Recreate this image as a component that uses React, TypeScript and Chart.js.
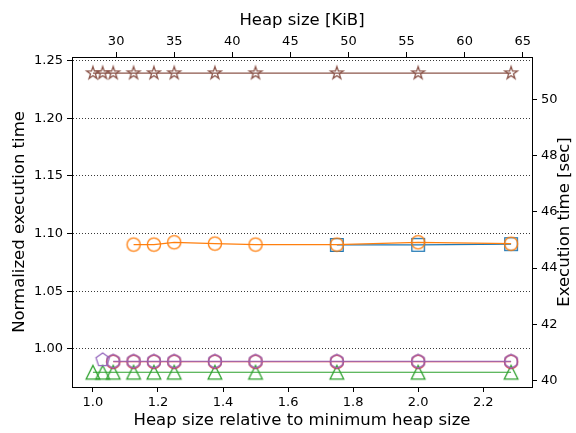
import React, { useEffect, useRef } from 'react';
import { Chart, registerables } from 'chart.js';

Chart.register(...registerables);

// ---- data ----
const relAll = [1.0, 1.03, 1.0625, 1.125, 1.1875, 1.25, 1.375, 1.5, 1.75, 2.0, 2.2857];
const brownY = [1.239, 1.239, 1.239, 1.239, 1.239, 1.239, 1.239, 1.239, 1.239, 1.239, 1.239];
const greenY = [0.9798, 0.9798, 0.9798, 0.9798, 0.9798, 0.9798, 0.9798, 0.9798, 0.9798, 0.9798, 0.9798];

const orangeX = [1.125, 1.1875, 1.25, 1.375, 1.5, 1.75, 2.0, 2.2857];
const orangeY = [1.0904, 1.0904, 1.0924, 1.0913, 1.0904, 1.0904, 1.0924, 1.0912];

const blueX = [1.75, 2.0, 2.2857];
const blueY = [1.0901, 1.0902, 1.0908];

const redX = [1.0625, 1.125, 1.1875, 1.25, 1.375, 1.5, 1.75, 2.0, 2.2857];
const redY = [0.9889, 0.9889, 0.9889, 0.9889, 0.9889, 0.9889, 0.9889, 0.9889, 0.9889];

const purpleX = [1.0625, 1.125, 1.1875, 1.25, 1.375, 1.5, 1.75, 2.0, 2.2857];
const purpleY = [0.9893, 0.9893, 0.9893, 0.9893, 0.9893, 0.9893, 0.9893, 0.9893, 0.9893];

const pentX = [1.03];
const pentY = [0.9905];

// ---- axes ----
const xTicks = [1.0, 1.2, 1.4, 1.6, 1.8, 2.0, 2.2];
const topTicks = [30, 35, 40, 45, 50, 55, 60, 65];
const leftTicks = [1.0, 1.05, 1.1, 1.15, 1.2, 1.25];
const rightTicks = [40, 42, 44, 46, 48, 50];

const X_MIN = 0.9357, X_MAX = 2.35;
const TOP_MIN = 26.2, TOP_MAX = 65.8;
const Y_MIN = 0.967, Y_MAX = 1.253;
const BASE_SEC = 41.12;

const FONT = 'DejaVu Sans';
const tickFont = { family: FONT, size: 13 };
const titleFont = { family: FONT, size: 16.5 };

function makeMarker(shape: string, color: string): HTMLCanvasElement {
  const S = 20;
  const c = document.createElement('canvas');
  c.width = S; c.height = S;
  const g = c.getContext('2d') as CanvasRenderingContext2D;
  g.strokeStyle = color;
  g.lineWidth = 1.3;
  const cx = S / 2, cy = S / 2;
  g.beginPath();
  const poly = (n: number, R: number, r?: number) => {
    const pts = r ? n * 2 : n;
    for (let i = 0; i < pts; i++) {
      const rad = r ? (i % 2 === 0 ? R : r) : R;
      const a = -Math.PI / 2 + (i * 2 * Math.PI) / pts;
      const px = cx + rad * Math.cos(a), py = cy + rad * Math.sin(a);
      if (i === 0) g.moveTo(px, py); else g.lineTo(px, py);
    }
    g.closePath();
  };
  if (shape === 'circle') g.arc(cx, cy, 6.6, 0, Math.PI * 2);
  else if (shape === 'square') g.rect(cx - 6.3, cy - 6.3, 12.6, 12.6);
  else if (shape === 'triangle') { g.moveTo(cx, cy - 6.8); g.lineTo(cx + 6.8, cy + 6.8); g.lineTo(cx - 6.8, cy + 6.8); g.closePath(); }
  else if (shape === 'star') poly(5, 6.6, 6.6 * 0.382);
  else if (shape === 'pentagon') poly(5, 7);
  else if (shape === 'hexagon') poly(6, 7);
  g.stroke();
  return c;
}

function pts(xs: number[], ys: number[]) {
  return xs.map((x, i) => ({ x, y: ys[i] }));
}

export default function App() {
  const ref = useRef<HTMLCanvasElement>(null);
  useEffect(() => {
    if (!ref.current) return;
    const C = {
      blue: '#1f77b4', orange: '#ff7f0e', green: '#2ca02c', red: '#d62728', purple: '#9467bd', brown: '#8c564b',
    };
    const ds = (data: any, color: string, shape: string) => ({
      data,
      borderColor: color,
      backgroundColor: color,
      borderWidth: 1.2,
      pointStyle: makeMarker(shape, color),
      pointRadius: 7,
      pointHoverRadius: 7,
      showLine: true,
      fill: false,
      tension: 0,
      xAxisID: 'x',
      yAxisID: 'y',
    });
    const setTicks = (vals: number[]) => (scale: any) => { scale.ticks = vals.map((v) => ({ value: v })); };
    const axisCommon = (vals: number[]) => ({
      type: 'linear' as const,
      afterBuildTicks: setTicks(vals),
      grid: { drawOnChartArea: false, tickLength: 5, tickColor: '#000', tickWidth: 1 },
      border: { color: '#000', width: 1 },
    });
    const rightTitle = {
      id: 'rightTitle',
      afterDraw(chart: any) {
        const ctx = chart.ctx;
        const a = chart.chartArea;
        ctx.save();
        ctx.font = `16.5px "${FONT}"`;
        ctx.fillStyle = '#000';
        ctx.textAlign = 'center';
        ctx.textBaseline = 'middle';
        ctx.translate(565, (a.top + a.bottom) / 2);
        ctx.rotate(-Math.PI / 2);
        ctx.fillText('Execution time [sec]', 0, 0);
        ctx.restore();
      },
    };
    const chart = new Chart(ref.current, {
      type: 'scatter',
      data: {
        datasets: [
          ds(pts(relAll, brownY), C.brown, 'star'),
          ds(pts(pentX, pentY), C.purple, 'pentagon'),
          ds(pts(purpleX, purpleY), C.purple, 'hexagon'),
          ds(pts(redX, redY), C.red, 'circle'),
          ds(pts(relAll, greenY), C.green, 'triangle'),
          ds(pts(orangeX, orangeY), C.orange, 'circle'),
          ds(pts(blueX, blueY), C.blue, 'square'),
        ] as any,
      },
      options: {
        animation: false,
        responsive: false,
        devicePixelRatio: 1,
        layout: { padding: 0 },
        plugins: { legend: { display: false }, tooltip: { enabled: false } },
        scales: {
          x: {
            ...axisCommon(xTicks),
            position: 'bottom',
            min: X_MIN, max: X_MAX,
            ticks: { font: tickFont, color: '#000', padding: 3, maxRotation: 0, autoSkip: false, callback: (v: any) => Number(v).toFixed(1) },
            title: { display: true, text: 'Heap size relative to minimum heap size', font: titleFont, color: '#000', padding: { top: 0, bottom: 2 } },
            afterFit: (s: any) => { s.height = 46; },
          },
          xTop: {
            ...axisCommon(topTicks),
            axis: 'x',
            position: 'top',
            min: TOP_MIN, max: TOP_MAX,
            ticks: { font: tickFont, color: '#000', padding: 3, maxRotation: 0, autoSkip: false, callback: (v: any) => String(Math.round(Number(v))) },
            title: { display: true, text: 'Heap size [KiB]', font: titleFont, color: '#000', padding: { top: 11, bottom: 0 } },
            afterFit: (s: any) => { s.height = 57; },
          },
          y: {
            type: 'linear',
            position: 'left',
            min: Y_MIN, max: Y_MAX,
            afterBuildTicks: setTicks(leftTicks),
            grid: { drawOnChartArea: true, color: '#222', lineWidth: 0.9, tickLength: 5, tickColor: '#000', tickWidth: 1, tickBorderDash: [] },
            border: { color: '#000', width: 1, dash: [1, 2] },
            ticks: { font: tickFont, color: '#000', padding: 4, autoSkip: false, callback: (v: any) => Number(v).toFixed(2) },
            title: { display: true, text: 'Normalized execution time', font: titleFont, color: '#000', padding: { top: 10, bottom: 0 } },
            afterFit: (s: any) => { s.width = 72; },
          },
          yRight: {
            ...axisCommon(rightTicks),
            axis: 'y',
            position: 'right',
            min: Y_MIN * BASE_SEC, max: Y_MAX * BASE_SEC,
            ticks: { font: tickFont, color: '#000', padding: 4, autoSkip: false, callback: (v: any) => String(Math.round(Number(v))) },
            title: { display: false },
            afterFit: (s: any) => { s.width = 44; },
          },
        } as any,
      },
      plugins: [rightTitle],
    });
    return () => chart.destroy();
  }, []);
  return (
    <div style={{ position: 'absolute', left: 0, top: 0, width: 576, height: 433, background: '#fff' }}>
      <canvas ref={ref} width={576} height={433} style={{ width: 576, height: 433, display: 'block' }} />
    </div>
  );
}
